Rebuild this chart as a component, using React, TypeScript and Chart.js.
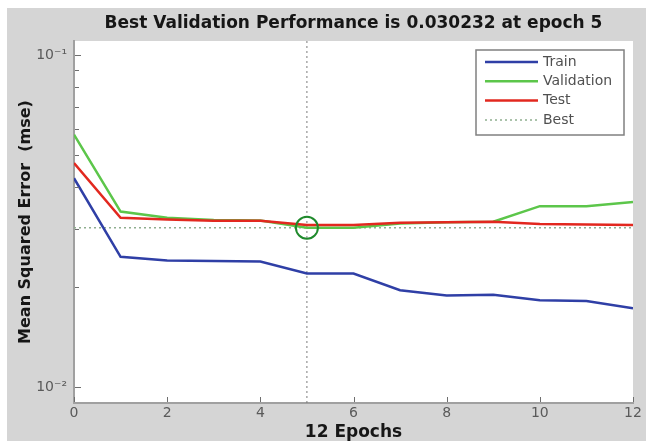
import React, { useEffect, useRef } from "react";
import { Chart, registerables } from "chart.js";

Chart.register(...registerables);

// ---- data ----
const epochs = [0, 1, 2, 3, 4, 5, 6, 7, 8, 9, 10, 11, 12];
const trainMse = [0.0426, 0.0247, 0.0241, 0.024, 0.0239, 0.022, 0.022, 0.0196, 0.0189, 0.019, 0.0183, 0.0182, 0.0173];
const validationMse = [0.0576, 0.0338, 0.0324, 0.0319, 0.0318, 0.030232, 0.0302, 0.0311, 0.0314, 0.0315, 0.0351, 0.0351, 0.0361];
const testMse = [0.0473, 0.0324, 0.032, 0.0317, 0.0317, 0.0308, 0.0308, 0.0313, 0.0314, 0.0315, 0.031, 0.0309, 0.0308];
const bestEpoch = 5;
const bestValue = 0.030232;
const xTickStep = 2;
const xRange = [0, 12];
const yRange = [0.008975, 0.1102];
const seriesLabels = ["Train", "Validation", "Test", "Best"];
const titleText = "Best Validation Performance is 0.030232 at epoch 5";
const xTitle = "12 Epochs";
const yTitle = "Mean Squared Error  (mse)";

const FONT = "'DejaVu Sans', 'Liberation Sans', sans-serif";
const supMap: Record<string, string> = { "-": "\u207B", "0": "\u2070", "1": "\u00B9", "2": "\u00B2", "3": "\u00B3" };
const toSup = (s: string) => s.split("").map((c) => supMap[c] ?? c).join("");

const decorPlugin = {
  id: "decor",
  beforeDraw(chart: any) {
    const { ctx, chartArea: a, width, height } = chart;
    ctx.save();
    ctx.fillStyle = "#ffffff";
    ctx.fillRect(0, 0, width, height);
    ctx.fillStyle = "#d5d5d5";
    ctx.fillRect(7, 8, width - 7, height - 8);
    ctx.fillStyle = "#ffffff";
    ctx.fillRect(a.left, a.top, a.right - a.left, a.bottom - a.top);
    ctx.restore();
  },
  afterDraw(chart: any) {
    const { ctx, chartArea: a } = chart;
    const xs = chart.scales.x;
    const ys = chart.scales.y;
    ctx.save();
    // inward tick marks
    ctx.strokeStyle = "#6e6e6e";
    ctx.lineWidth = 1;
    ctx.beginPath();
    xs.ticks.forEach((t: any) => {
      const px = Math.round(xs.getPixelForValue(t.value)) + 0.5;
      ctx.moveTo(px, a.bottom - 1);
      ctx.lineTo(px, a.bottom - 6);
    });
    const decades = [-2, -1];
    const sigs = [1, 2, 3, 4, 5, 6, 7, 8, 9];
    decades.forEach((e) => {
      sigs.forEach((sig) => {
        const v = sig * Math.pow(10, e);
        if (v < yRange[0] || v > yRange[1]) return;
        const py = Math.round(ys.getPixelForValue(v)) + 0.5;
        if (py > a.bottom - 3 || py < a.top + 2) return;
        const major = sig === 1;
        ctx.moveTo(a.left + 1, py);
        ctx.lineTo(a.left + (major ? 7 : 5), py);
      });
    });
    ctx.stroke();

    // legend box
    const bw = 148;
    const bh = 85;
    const bx = a.right - 9 - bw;
    const by = a.top + 9;
    ctx.fillStyle = "#ffffff";
    ctx.fillRect(bx, by, bw, bh);
    ctx.strokeStyle = "#808080";
    ctx.lineWidth = 1.5;
    ctx.strokeRect(bx, by, bw, bh);
    ctx.font = `14px ${FONT}`;
    ctx.textBaseline = "middle";
    ctx.textAlign = "left";
    const ds = chart.data.datasets;
    for (let i = 0; i < 4; i++) {
      const d = ds[i];
      const ry = by + 12 + i * 19.3;
      ctx.beginPath();
      ctx.strokeStyle = d.borderColor;
      ctx.lineWidth = i === 3 ? 1.5 : 2.5;
      ctx.setLineDash(i === 3 ? [2, 3] : []);
      ctx.moveTo(bx + 9, ry);
      ctx.lineTo(bx + 62, ry);
      ctx.stroke();
      ctx.setLineDash([]);
      ctx.fillStyle = "#505050";
      ctx.fillText(d.label, bx + 67, ry);
    }
    ctx.restore();
  },
};

export default function App() {
  const canvasRef = useRef<HTMLCanvasElement | null>(null);

  useEffect(() => {
    if (!canvasRef.current) return;
    const pts = (arr: number[]) => epochs.map((e, i) => ({ x: e, y: arr[i] }));
    const chart = new Chart(canvasRef.current, {
      type: "line",
      data: {
        datasets: [
          { label: seriesLabels[0], data: pts(trainMse), borderColor: "#2f3fa6", borderWidth: 2.5, pointRadius: 0, order: 3 },
          { label: seriesLabels[1], data: pts(validationMse), borderColor: "#5cc64a", borderWidth: 2.5, pointRadius: 0, order: 2 },
          { label: seriesLabels[2], data: pts(testMse), borderColor: "#e2281f", borderWidth: 2.5, pointRadius: 0, order: 1 },
          {
            label: seriesLabels[3],
            data: [{ x: xRange[0], y: bestValue }, { x: xRange[1], y: bestValue }],
            borderColor: "#8fae8f",
            borderWidth: 1.5,
            borderDash: [2, 3],
            pointRadius: 0,
            order: 4,
          },
          {
            label: "bestEpoch",
            data: [{ x: bestEpoch, y: yRange[0] }, { x: bestEpoch, y: yRange[1] }],
            borderColor: "#7a7a7a",
            borderWidth: 1,
            borderDash: [2, 3],
            pointRadius: 0,
            order: 5,
          },
          {
            label: "bestPoint",
            data: [{ x: bestEpoch, y: bestValue }],
            showLine: false,
            pointRadius: 11,
            pointBorderWidth: 2,
            pointBorderColor: "#1f8a2c",
            pointBackgroundColor: "rgba(0,0,0,0)",
            borderColor: "#1f8a2c",
            order: 0,
          },
        ],
      },
      options: {
        responsive: false,
        animation: false,
        devicePixelRatio: 1,
        layout: { padding: { left: 7, top: 8, right: 11, bottom: 0 } },
        plugins: {
          legend: { display: false },
          tooltip: { enabled: false },
          title: {
            display: true,
            text: titleText,
            fullSize: false,
            color: "#161616",
            font: { family: FONT, size: 17, weight: "bold", lineHeight: 1.2 },
            padding: { top: 5, bottom: 7.6 },
          },
        },
        scales: {
          x: {
            type: "linear",
            min: xRange[0],
            max: xRange[1],
            grid: { display: false, drawTicks: false },
            border: { display: true, color: "#a0a0a0", width: 2 },
            ticks: { stepSize: xTickStep, padding: 2, color: "#5a5a5a", font: { family: FONT, size: 14 } },
            title: {
              display: true,
              text: xTitle,
              color: "#161616",
              font: { family: FONT, size: 17, weight: "bold", lineHeight: 1.0 },
              padding: { top: 0, bottom: 0 },
            },
            afterFit: (s: any) => {
              s.height = 38;
            },
          },
          y: {
            type: "logarithmic",
            min: yRange[0],
            max: yRange[1],
            grid: { display: false, drawTicks: false },
            border: { display: true, color: "#a0a0a0", width: 2 },
            ticks: {
              autoSkip: false,
              padding: 7,
              color: "#5a5a5a",
              font: { family: FONT, size: 14 },
              callback: (v: any) => {
                const e = Math.log10(Number(v));
                if (Math.abs(e - Math.round(e)) < 1e-6) return "10" + toSup(String(Math.round(e)));
                return "";
              },
            },
            title: {
              display: true,
              text: yTitle,
              color: "#161616",
              font: { family: FONT, size: 16, weight: "bold", lineHeight: 1.2 },
              padding: { top: 9, bottom: 0 },
            },
            afterFit: (s: any) => {
              s.width = 67;
            },
          },
        },
      },
      plugins: [decorPlugin],
    });
    return () => chart.destroy();
  }, []);

  return (
    <div style={{ position: "fixed", left: 0, top: 0, width: 646, height: 441 }}>
      <canvas ref={canvasRef} width={646} height={441} style={{ display: "block" }} />
    </div>
  );
}
